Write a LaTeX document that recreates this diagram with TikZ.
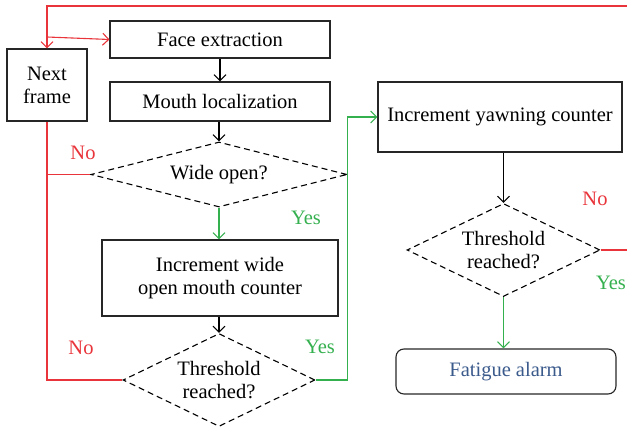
\documentclass[tikz,border=0pt]{standalone}
\usepackage{fontspec}
\setmainfont{Liberation Serif}
\usetikzlibrary{arrows.meta,shapes.geometric}
\definecolor{cred}{HTML}{E8343A}
\definecolor{cgreen}{HTML}{35B04F}
\definecolor{cblue}{HTML}{3B5A8C}
\tikzset{
  box/.style={draw=black!85,line width=1.1pt,rectangle,inner sep=0pt,align=center,font=\fontsize{20.5}{23}\selectfont},
  dia/.style={draw=black,line width=1.1pt,dash pattern=on 6pt off 4pt,diamond,inner sep=0pt,align=center,font=\fontsize{20.5}{23}\selectfont},
  conn/.style={line width=1.1pt},
  arr/.style={conn,-{Straight Barb[length=6pt,width=12pt]}},
  lbl/.style={font=\fontsize{20.5}{23}\selectfont,inner sep=0pt}
}
\begin{document}
\begin{tikzpicture}[x=1pt,y=-1pt]
\useasboundingbox (0,0) rectangle (627,427);
\node[box,minimum width=80pt,minimum height=72pt] (next) at (47,85) {Next\\frame};
\node[box,minimum width=220pt,minimum height=37pt] (face) at (220,39.5) {Face extraction};
\node[box,minimum width=220pt,minimum height=39pt] (mouth) at (220,101.5) {Mouth localization};
\node[dia,aspect=3.94,minimum width=256pt,minimum height=65pt] (wide) at (219,174.5) {Wide open?};
\node[box,minimum width=236pt,minimum height=76pt] (inc) at (220,278) {Increment wide\\open mouth counter};
\node[dia,aspect=2.06,minimum width=192pt,minimum height=93pt] (th1) at (219,380) {Threshold\\reached?};
\node[box,minimum width=244pt,minimum height=70pt] (yawn) at (500,117) {Increment yawning counter};
\node[dia,aspect=2.07,minimum width=193pt,minimum height=93pt] (th2) at (503.5,250) {Threshold\\reached?};
\node[box,rounded corners=8pt,minimum width=220pt,minimum height=45pt,text=cblue] (alarm) at (506,371.5) {Fatigue alarm};
\coordinate (topend) at (627,6);
\coordinate (rend) at (627,250);
\coordinate (fork) at (47,37);
% labels
\node[lbl,text=cred] (no1) at (83,153) {No};
\node[lbl,text=cgreen] (yes1) at (306,218) {Yes};
\node[lbl,text=cred] (no2) at (81,348) {No};
\node[lbl,text=cgreen] (yes2) at (320,347) {Yes};
\node[lbl,text=cred] (no3) at (595,199) {No};
\node[lbl,text=cgreen] (yes3) at (611,283) {Yes};
% connectors
\draw[arr,cred] (topend) -| (next.north);
\draw[arr,cred] (fork) -- (face.west);
\draw[arr] (face.south) -- (mouth.north);
\draw[arr] (mouth.south -| wide.north) -- (wide.north);
\draw[conn,cred] (wide.west) -- (wide.west -| next.south);
\draw[conn,cred] (th1.west) -| (next.south);
\draw[arr,cgreen] (wide.south) -- (wide.south |- inc.north);
\draw[arr] (inc.south -| th1.north) -- (th1.north);
\draw[arr,cgreen] (th1.east) -- (th1.east -| wide.east) |- (yawn.west);
\draw[arr] (yawn.south -| th2.north) -- (th2.north);
\draw[conn,cred] (th2.east) -- (rend);
\draw[arr,cgreen] (th2.south) -- (th2.south |- alarm.north);
\end{tikzpicture}
\end{document}
